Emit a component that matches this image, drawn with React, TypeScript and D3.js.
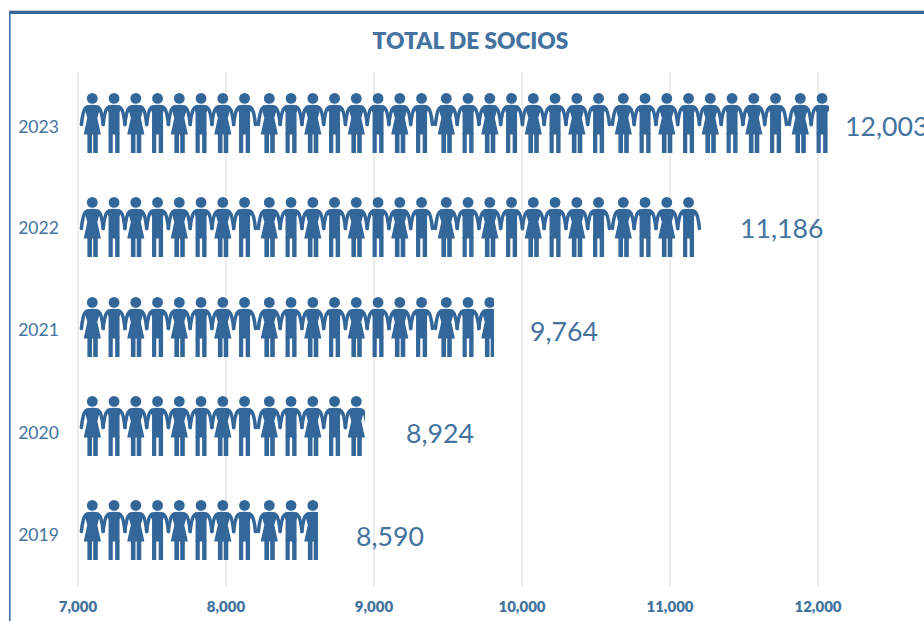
import React from "react";
import * as d3 from "d3";

const years = ["2023", "2022", "2021", "2020", "2019"];
const socios = [12003, 11186, 9764, 8924, 8590];
// Where the icon strip visibly stops, and where each label starts, in axis units
const iconExtent = [12074, 11215, 9811, 8939, 8622];
const labelStart = [12182, 11473, 10054, 9216, 8878];
const axisTicks = [7000, 8000, 9000, 10000, 11000, 12000];
const BLUE = "#336699";
const TEXT = "#44739f";
const FONT = "Lato, 'Open Sans', sans-serif";

const W = 924, H = 621;
const x = d3.scaleLinear().domain([7000, 12000]).range([78, 818]);
const iconTop = d3.scaleOrdinal<string, number>().domain(years).range([93, 197, 297, 396, 500]);
const yearY = d3.scaleOrdinal<string, number>().domain(years).range([127, 228, 330, 433, 535]);
const labelY = d3.scaleOrdinal<string, number>().domain(years).range([126.5, 228.5, 331.5, 433.5, 536.5]);

const personX = (i: number) => 92.3 + Math.floor(i / 8) * 177 + (i % 8) * 21.75;

function Person({ cx, woman }: { cx: number; woman: boolean }) {
  const body = woman
    ? "M-6,12.2 Q0,11.3 6,12.2 L8,14.5 L5,25 L8.6,41.5 L-8.6,41.5 L-5,25 L-8,14.5 Z"
    : "M-6,12.2 Q0,11.3 6,12.2 L8,14.5 L5.5,19.5 L5.5,41.5 L-5.5,41.5 L-5.5,19.5 L-8,14.5 Z";
  const legs = woman ? [[-4.9, 4.6], [0.9, 4.6]] : [[-5.5, 4.2], [1.1, 4.4]];
  return (
    <g transform={`translate(${cx},0)`} fill={BLUE}>
      <circle cx={0} cy={5.4} r={5.4} />
      <path d={body} />
      {legs.map(([lx, lw], k) => (
        <rect key={k} x={lx} y={40} width={lw} height={20} />
      ))}
      <path
        d="M-6.5,14.8 Q-9.4,17 -10.9,31.5 M6.5,14.8 Q9.4,17 10.9,31.5"
        fill="none"
        stroke={BLUE}
        strokeWidth={3.5}
        strokeLinecap="round"
      />
    </g>
  );
}

export default function App() {
  return (
    <svg width={W} height={H} viewBox={`0 0 ${W} ${H}`}
      style={{ position: "absolute", left: 0, top: 0, background: "#fff" }}>
      <rect x={9} y={10} width={W - 9} height={1.5} fill="#c9c9c9" />
      <rect x={9} y={11} width={W - 9} height={3} fill={BLUE} />
      <rect x={9} y={11} width={1.6} height={H - 11} fill="#3f6fa3" />
      <text x={470.5} y={48.5} textAnchor="middle" fontFamily={FONT} fontWeight={800}
        fontSize={22.7} fill={TEXT}>TOTAL DE SOCIOS</text>

      {axisTicks.map((t) => (
        <g key={t}>
          <line x1={x(t)} x2={x(t)} y1={73} y2={587} stroke="#d9d9d9" strokeWidth={1} />
          <text x={x(t)} y={612} textAnchor="middle" fontFamily={FONT} fontWeight={800}
            fontSize={15} fill={TEXT}>{d3.format(",")(t)}</text>
        </g>
      ))}

      <defs>
        {years.map((y, i) => (
          <clipPath id={`strip-${y}`} key={y}>
            <rect x={70} y={iconTop(y) - 2} width={x(iconExtent[i]) - 70} height={66} />
          </clipPath>
        ))}
      </defs>

      {years.map((y, i) => {
        const end = x(iconExtent[i]);
        const people = d3.range(40).filter((k) => personX(k) + 4 < end);
        return (
          <g key={y}>
            <text x={38.5} y={yearY(y) + 6} textAnchor="middle" fontFamily={FONT}
              fontSize={17.5} fill={TEXT}>{y}</text>
            <g clipPath={`url(#strip-${y})`}>
              <g transform={`translate(0,${iconTop(y)})`}>
                {people.map((k) => <Person key={k} cx={personX(k)} woman={k % 2 === 0} />)}
              </g>
            </g>
            <text x={x(labelStart[i])} y={labelY(y) + 9} fontFamily={FONT}
              fontSize={26.7} fill={TEXT}>{d3.format(",")(socios[i])}</text>
          </g>
        );
      })}
    </svg>
  );
}
